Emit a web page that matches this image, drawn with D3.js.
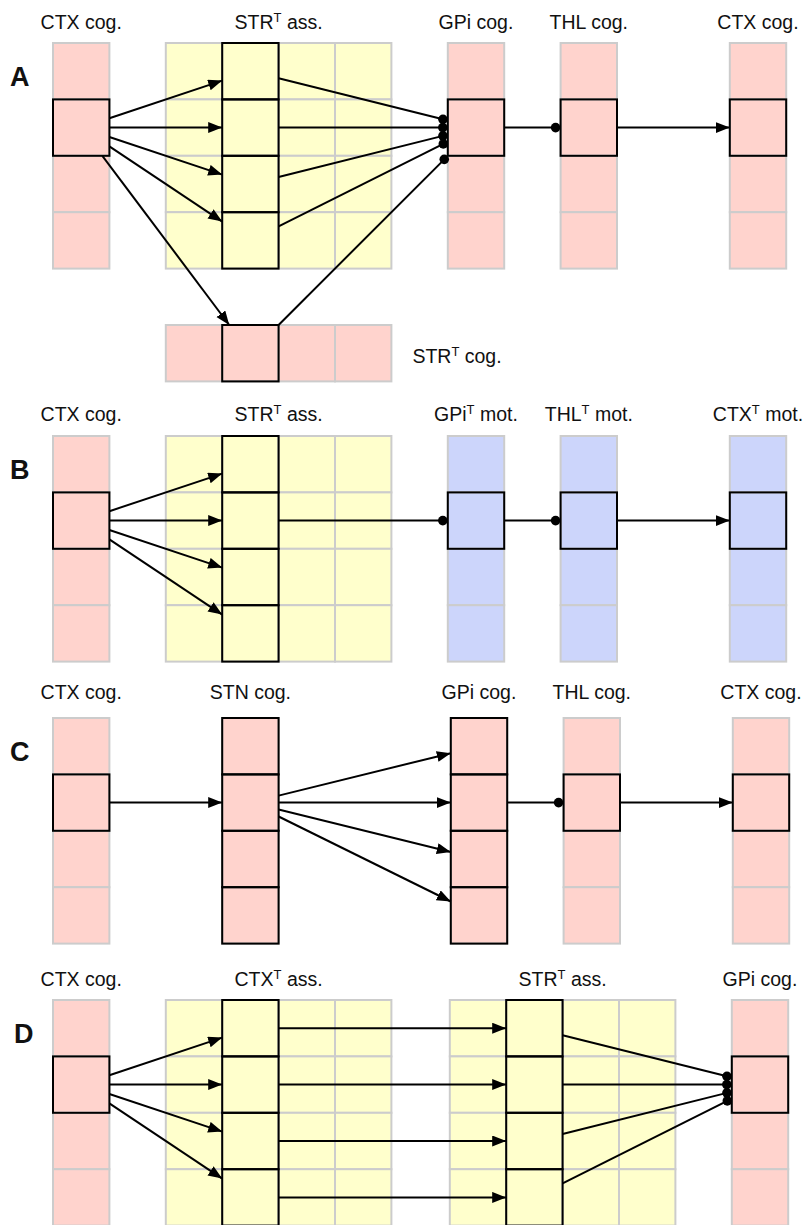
<!DOCTYPE html>
<html lang="en">
  <head>
    <meta charset="UTF-8" />
    <title>Basal ganglia loops</title>
    <script src="https://d3js.org/d3.v7.min.js"></script>
    <style>
      body { margin: 0; background: #fff; }
      text { font-family: "Liberation Sans", Arial, Helvetica, sans-serif; white-space: pre; fill: #111; }
    </style>
  </head>
  <body>
    <script>
      // panels, layers (name, type, grid position in cell units, size, highlighted cells), links
      const panels = ["A", "B", "C", "D"];

      const layers = [
        { id: "a_ctx",  panel: "A", name: "CTX cog.",   type: "cog", gx: 0,  gy: 0, cols: 1, rows: 4, hiCol: 0, hiRow: 1 },
        { id: "a_str",  panel: "A", name: "STR^T ass.", type: "ass", gx: 2,  gy: 0, cols: 4, rows: 4, hiCol: 1, hiRow: null },
        { id: "a_strc", panel: "A", name: "STR^T cog.", type: "cog", gx: 2,  gy: 5, cols: 4, rows: 1, hiCol: 1, hiRow: 0, side: "right" },
        { id: "a_gpi",  panel: "A", name: "GPi cog.",   type: "cog", gx: 7,  gy: 0, cols: 1, rows: 4, hiCol: 0, hiRow: 1 },
        { id: "a_thl",  panel: "A", name: "THL cog.",   type: "cog", gx: 9,  gy: 0, cols: 1, rows: 4, hiCol: 0, hiRow: 1 },
        { id: "a_ctx2", panel: "A", name: "CTX cog.",   type: "cog", gx: 12, gy: 0, cols: 1, rows: 4, hiCol: 0, hiRow: 1 },

        { id: "b_ctx",  panel: "B", name: "CTX cog.",   type: "cog", gx: 0,  gy: 0, cols: 1, rows: 4, hiCol: 0, hiRow: 1 },
        { id: "b_str",  panel: "B", name: "STR^T ass.", type: "ass", gx: 2,  gy: 0, cols: 4, rows: 4, hiCol: 1, hiRow: null },
        { id: "b_gpi",  panel: "B", name: "GPi^T mot.", type: "mot", gx: 7,  gy: 0, cols: 1, rows: 4, hiCol: 0, hiRow: 1 },
        { id: "b_thl",  panel: "B", name: "THL^T mot.", type: "mot", gx: 9,  gy: 0, cols: 1, rows: 4, hiCol: 0, hiRow: 1 },
        { id: "b_ctx2", panel: "B", name: "CTX^T mot.", type: "mot", gx: 12, gy: 0, cols: 1, rows: 4, hiCol: 0, hiRow: 1 },

        { id: "c_ctx",  panel: "C", name: "CTX cog.",   type: "cog", gx: 0,  gy: 0, cols: 1, rows: 4, hiCol: 0, hiRow: 1 },
        { id: "c_stn",  panel: "C", name: "STN cog.",   type: "cog", gx: 3,  gy: 0, cols: 1, rows: 4, hiCol: 0, hiRow: null },
        { id: "c_gpi",  panel: "C", name: "GPi cog.",   type: "cog", gx: 7,  gy: 0, cols: 1, rows: 4, hiCol: 0, hiRow: null },
        { id: "c_thl",  panel: "C", name: "THL cog.",   type: "cog", gx: 9,  gy: 0, cols: 1, rows: 4, hiCol: 0, hiRow: 1 },
        { id: "c_ctx2", panel: "C", name: "CTX cog.",   type: "cog", gx: 12, gy: 0, cols: 1, rows: 4, hiCol: 0, hiRow: 1 },

        { id: "d_ctx",  panel: "D", name: "CTX cog.",   type: "cog", gx: 0,  gy: 0, cols: 1, rows: 4, hiCol: 0, hiRow: 1 },
        { id: "d_ctxa", panel: "D", name: "CTX^T ass.", type: "ass", gx: 2,  gy: 0, cols: 4, rows: 4, hiCol: 1, hiRow: null },
        { id: "d_stra", panel: "D", name: "STR^T ass.", type: "ass", gx: 7,  gy: 0, cols: 4, rows: 4, hiCol: 1, hiRow: null },
        { id: "d_gpi",  panel: "D", name: "GPi cog.",   type: "cog", gx: 12, gy: 0, cols: 1, rows: 4, hiCol: 0, hiRow: 1 }
      ];

      // [from layer, col, row, to layer, col, row, kind]
      const links = [
        ["a_ctx", 0, 1, "a_str", 1, 0, "exc"],
        ["a_ctx", 0, 1, "a_str", 1, 1, "exc"],
        ["a_ctx", 0, 1, "a_str", 1, 2, "exc"],
        ["a_ctx", 0, 1, "a_str", 1, 3, "exc"],
        ["a_ctx", 0, 1, "a_strc", 1, 0, "exc"],
        ["a_str", 1, 0, "a_gpi", 0, 1, "inh"],
        ["a_str", 1, 1, "a_gpi", 0, 1, "inh"],
        ["a_str", 1, 2, "a_gpi", 0, 1, "inh"],
        ["a_str", 1, 3, "a_gpi", 0, 1, "inh"],
        ["a_strc", 1, 0, "a_gpi", 0, 1, "inh"],
        ["a_gpi", 0, 1, "a_thl", 0, 1, "inh"],
        ["a_thl", 0, 1, "a_ctx2", 0, 1, "exc"],

        ["b_ctx", 0, 1, "b_str", 1, 0, "exc"],
        ["b_ctx", 0, 1, "b_str", 1, 1, "exc"],
        ["b_ctx", 0, 1, "b_str", 1, 2, "exc"],
        ["b_ctx", 0, 1, "b_str", 1, 3, "exc"],
        ["b_str", 1, 1, "b_gpi", 0, 1, "inh"],
        ["b_gpi", 0, 1, "b_thl", 0, 1, "inh"],
        ["b_thl", 0, 1, "b_ctx2", 0, 1, "exc"],

        ["c_ctx", 0, 1, "c_stn", 0, 1, "exc"],
        ["c_stn", 0, 1, "c_gpi", 0, 0, "exc"],
        ["c_stn", 0, 1, "c_gpi", 0, 1, "exc"],
        ["c_stn", 0, 1, "c_gpi", 0, 2, "exc"],
        ["c_stn", 0, 1, "c_gpi", 0, 3, "exc"],
        ["c_gpi", 0, 1, "c_thl", 0, 1, "inh"],
        ["c_thl", 0, 1, "c_ctx2", 0, 1, "exc"],

        ["d_ctx", 0, 1, "d_ctxa", 1, 0, "exc"],
        ["d_ctx", 0, 1, "d_ctxa", 1, 1, "exc"],
        ["d_ctx", 0, 1, "d_ctxa", 1, 2, "exc"],
        ["d_ctx", 0, 1, "d_ctxa", 1, 3, "exc"],
        ["d_ctxa", 1, 0, "d_stra", 1, 0, "exc"],
        ["d_ctxa", 1, 1, "d_stra", 1, 1, "exc"],
        ["d_ctxa", 1, 2, "d_stra", 1, 2, "exc"],
        ["d_ctxa", 1, 3, "d_stra", 1, 3, "exc"],
        ["d_stra", 1, 0, "d_gpi", 0, 1, "inh"],
        ["d_stra", 1, 1, "d_gpi", 0, 1, "inh"],
        ["d_stra", 1, 2, "d_gpi", 0, 1, "inh"],
        ["d_stra", 1, 3, "d_gpi", 0, 1, "inh"]
      ];

      // layout
      const width = 807;
      const height = 1225;
      const u = 56.4;
      const panelTop = { A: 43, B: 436, C: 718, D: 1000 };
      const labelGap = { A: 14, B: 15, C: 19, D: 14 };
      const panelShift = { A: 0, B: 0, C: 3, D: 2 };
      const color = d3.scaleOrdinal()
        .domain(["cog", "ass", "mot"])
        .range(["#ffd3cd", "#ffffcc", "#ccd5fb"]);

      const x = d3.scaleLinear().domain([0, 1]).range([53, 53 + u]);
      const y = d3.scaleLinear().domain([0, 1]).range([0, u]);

      const svg = d3.select("body").append("svg")
        .attr("width", width)
        .attr("height", height);

      svg.append("defs").append("marker")
        .attr("id", "arrow")
        .attr("markerUnits", "userSpaceOnUse")
        .attr("markerWidth", 15).attr("markerHeight", 12)
        .attr("refX", 14).attr("refY", 5.5)
        .attr("orient", "auto")
        .append("path")
        .attr("d", "M0,0 L14,5.5 L0,11 Z")
        .attr("fill", "#000");

      const byId = new Map(layers.map(d => [d.id, d]));

      function cellRect(l, c, r) {
        return { x0: x(l.gx + c), x1: x(l.gx + c + 1), y0: y(l.gy + r), y1: y(l.gy + r + 1) };
      }

      function addLabel(sel, name, px, py, anchor) {
        const t = sel.append("text")
          .attr("x", px).attr("y", py)
          .attr("text-anchor", anchor)
          .style("font-size", "19.5px");
        const parts = name.split("^T");
        t.append("tspan").text(parts[0]);
        if (parts.length > 1) {
          t.append("tspan").attr("dy", -7).style("font-size", "13px").text("T");
          t.append("tspan").attr("dy", 7).text(parts[1]);
        }
      }

      panels.forEach(p => {
        const g = svg.append("g").attr("transform", `translate(0,${panelTop[p]})`);
        const pl = layers.filter(d => d.panel === p);

        g.append("text")
          .attr("x", p === "D" ? 14 : 10)
          .attr("y", 42.5)
          .style("font-size", "27px")
          .style("font-weight", "bold")
          .text(p);

        // the far columns of panels C and D sit a few pixels further right
        const sx = gx => x(gx) + (gx > 5 ? panelShift[p] : 0);

        // cells
        pl.forEach(l => {
          const cells = [];
          for (let c = 0; c < l.cols; c++)
            for (let r = 0; r < l.rows; r++) cells.push({ c, r, hi: (l.hiCol == null || l.hiCol === c) && (l.hiRow == null || l.hiRow === r) });
          const lg = g.append("g").attr("transform", `translate(${sx(l.gx) - x(l.gx)},0)`);
          lg.selectAll("rect.cell").data(cells).join("rect")
            .attr("class", "cell")
            .attr("x", d => x(l.gx + d.c)).attr("y", d => y(l.gy + d.r))
            .attr("width", u).attr("height", u)
            .attr("fill", color(l.type))
            .attr("stroke", "#cccccc").attr("stroke-width", 2);
          lg.selectAll("rect.hi").data(cells.filter(d => d.hi)).join("rect")
            .attr("class", "hi")
            .attr("x", d => x(l.gx + d.c)).attr("y", d => y(l.gy + d.r))
            .attr("width", u).attr("height", u)
            .attr("fill", "none")
            .attr("stroke", "#000").attr("stroke-width", 2);

          const cx = (x(l.gx) + x(l.gx + l.cols)) / 2;
          if (l.side === "right") {
            addLabel(lg, l.name, x(l.gx + l.cols) + 21, y(l.gy + 0.5) + 10, "start");
          } else {
            addLabel(lg, l.name, cx, y(l.gy) - labelGap[p], "middle");
          }
        });

        // links: centre to centre, clipped to cell borders
        const pk = links.filter(k => byId.get(k[0]).panel === p);
        const lines = pk.map(k => {
          const la = byId.get(k[0]), lb = byId.get(k[3]);
          const a = cellRect(la, k[1], k[2]);
          const b = cellRect(lb, k[4], k[5]);
          const oa = sx(la.gx) - x(la.gx), ob = sx(lb.gx) - x(lb.gx);
          const ax = (a.x0 + a.x1) / 2 + oa, ay = (a.y0 + a.y1) / 2;
          const bx = (b.x0 + b.x1) / 2 + ob, by = (b.y0 + b.y1) / 2;
          const dx = bx - ax, dy = by - ay;
          const len = Math.hypot(dx, dy);
          const ts = Math.min(dx ? (u / 2) / Math.abs(dx) : Infinity, dy ? (u / 2) / Math.abs(dy) : Infinity);
          const x1 = ax + ts * dx, y1 = ay + ts * dy;
          const tx = bx - ts * dx, ty = by - ts * dy;
          const back = k[6] === "inh" ? 5 : 0;
          return { x1, y1, x2: tx - back * dx / len, y2: ty - back * dy / len, kind: k[6] };
        });

        g.selectAll("line.link").data(lines).join("line")
          .attr("class", "link")
          .attr("x1", d => d.x1).attr("y1", d => d.y1)
          .attr("x2", d => d.x2).attr("y2", d => d.y2)
          .attr("stroke", "#000").attr("stroke-width", 2)
          .attr("marker-end", d => d.kind === "exc" ? "url(#arrow)" : null);

        g.selectAll("circle.inh").data(lines.filter(d => d.kind === "inh")).join("circle")
          .attr("class", "inh")
          .attr("cx", d => d.x2).attr("cy", d => d.y2)
          .attr("r", 4.8)
          .attr("fill", "#000");
      });
    </script>
  </body>
</html>
